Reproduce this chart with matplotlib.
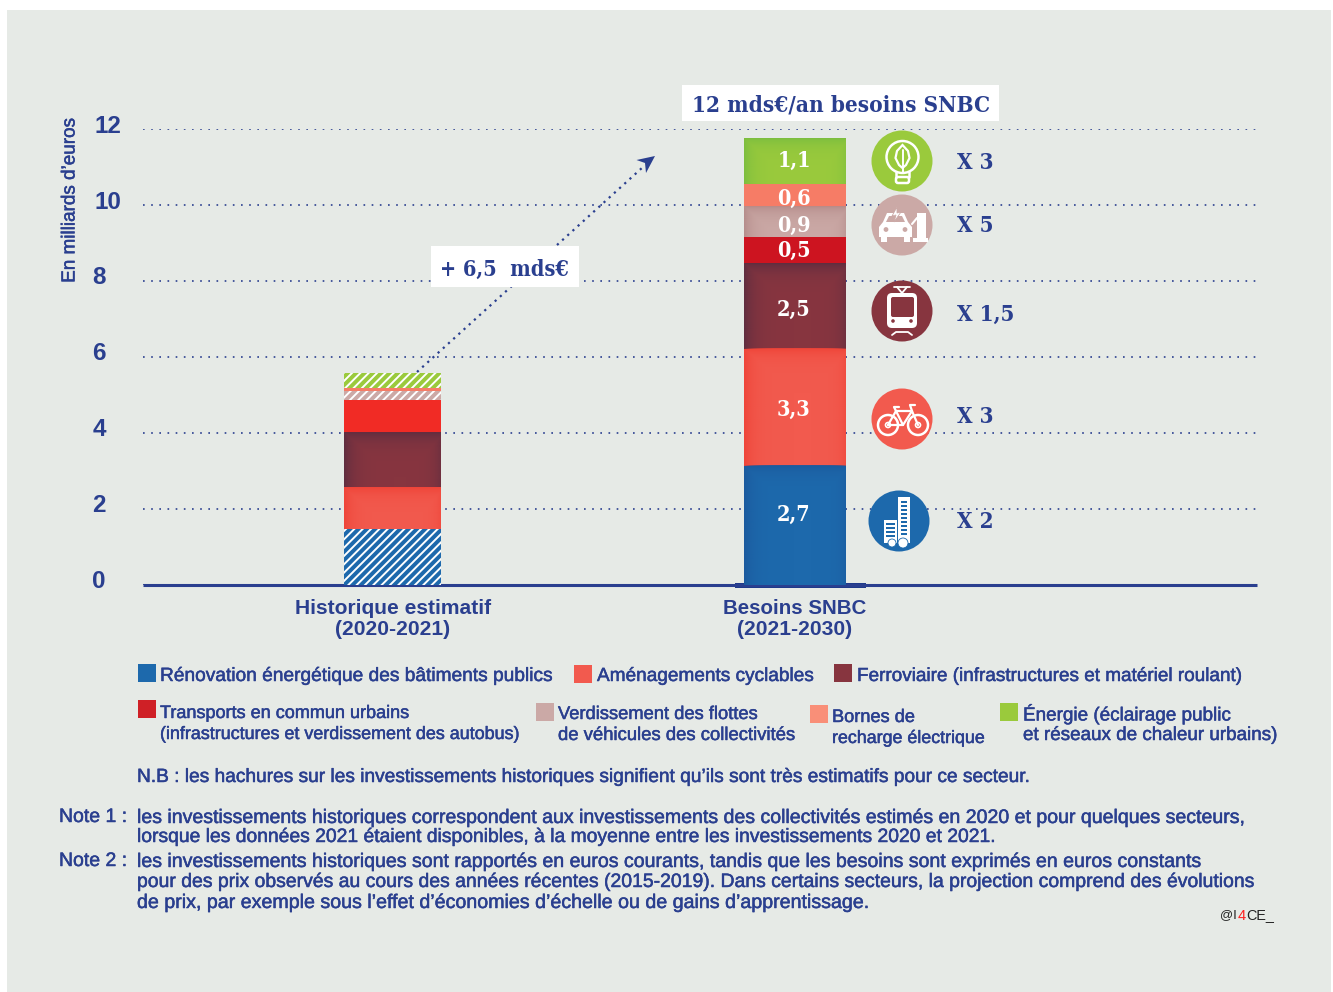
import matplotlib
matplotlib.use("Agg")
import matplotlib.pyplot as plt
import numpy as np
from matplotlib.colors import to_rgb
from matplotlib.patches import Circle, Rectangle, FancyBboxPatch, Polygon
from matplotlib.transforms import ScaledTranslation
import matplotlib.patheffects as pe

W, H = 1333, 992
SANS = "Liberation Sans"
SERIF = "DejaVu Serif"
NAVY = "#2A3F8F"
PANEL = "#E6EAE6"

periods = ["Historique estimatif\n(2020-2021)", "Besoins SNBC\n(2021-2030)"]
sectors = ["Rénovation", "Cyclable", "Ferroviaire", "Transports", "Verdissement", "Bornes", "Énergie"]
colors = ["#1D69AC", "#F25A4E", "#87353F", "#F12B25", "#CBA9A6", "#F67C66", "#9ACA3C"]
colors_right = ["#1D69AC", "#F25A4E", "#87353F", "#CD1420", "#CBA9A6", "#F67C66", "#9ACA3C"]
edge_tints = ["#1B5A9E", "#EF4438", "#5E2D40", None, "#B58D8B", None, "#7CBE3F"]
hist_heights = [1.47, 1.10, 1.42, 0.87, 0.24, 0.08, 0.39]
hist_hatched = [True, False, False, False, True, False, True]
need_heights = [3.13, 3.08, 2.26, 0.68, 0.79, 0.61, 1.19]
need_labels = ["2,7", "3,3", "2,5", "0,5", "0,9", "0,6", "1,1"]
yticks = [0, 2, 4, 6, 8, 10, 12]

plt.rcParams["hatch.linewidth"] = 1.4
plt.rcParams["hatch.color"] = "white"
fig = plt.figure(figsize=(W / 100, H / 100), dpi=100, facecolor="white")

# pixel overlay for panel, annotations and pictograms
bg = fig.add_axes([0, 0, 1, 1], zorder=0)
bg.set_xlim(0, W); bg.set_ylim(H, 0); bg.axis("off")
bg.add_patch(Rectangle((7, 10), 1324, 982, fc=PANEL, ec="none"))
bg.add_patch(Rectangle((735, 582.7), 131, 5.3, fc="#1F3A8A", ec="none"))

# chart axes: x pixels 143..1257, y pixels 585 (0) .. 128.5 (12)
ax = fig.add_axes([143 / W, 1 - 585 / H, (1257 - 143) / W, (585 - 128.5) / H], zorder=1)
ax.patch.set_alpha(0)
ax.set_xlim(143, 1257)
ax.set_ylim(0, 12)
for s in ["top", "right", "left"]:
    ax.spines[s].set_visible(False)
ax.spines["bottom"].set_color(NAVY)
ax.spines["bottom"].set_linewidth(2.2)
ax.spines["bottom"].set_capstyle("butt")
ax.set_axisbelow(True)
ax.yaxis.grid(True, color=NAVY, linestyle=(0, (1, 3.9)), linewidth=1.2)
ax.xaxis.set_visible(False)
ax.set_yticks(yticks)
ax.tick_params(axis="y", length=0, pad=34.6, labelsize=17.5, labelcolor=NAVY)
fig.canvas.draw()
for tl in ax.get_yticklabels():
    single = len(tl.get_text()) == 1
    shift = ScaledTranslation((-2.5 if single else 0) / 100, (5.5 if single else 4.5) / 100, fig.dpi_scale_trans)
    tl.set_fontfamily(SANS); tl.set_fontweight("bold"); tl.set_ha("left")
    tl.set_transform(tl.get_transform() + shift)

bars = []
bottom = 0
for i, (h, c, hatched) in enumerate(zip(hist_heights, colors, hist_hatched)):
    b = ax.bar(392.5, h, 97, bottom=bottom, color=c, edgecolor="white" if hatched else c,
               linewidth=0, hatch="////" if hatched else None, zorder=3)[0]
    if not hatched:
        bars.append((b, edge_tints[i]))
    bottom += h
bottom = 0
for i, (h, c) in enumerate(zip(need_heights, colors_right)):
    b = ax.bar(795, h, 102, bottom=bottom, color=c, linewidth=0, zorder=3)[0]
    bars.append((b, edge_tints[i]))
    bottom += h

# top layer for annotations
fg = fig.add_axes([0, 0, 1, 1], zorder=2)
fg.set_xlim(0, W); fg.set_ylim(H, 0); fg.axis("off")

# soft edge shading on the solid segments
to_px = ax.transData + fg.transData.inverted()
for b, tint in bars:
    if tint is None:
        continue
    (x0, y1), (x1, y0) = to_px.transform([(b.get_x(), b.get_y()), (b.get_x() + b.get_width(), b.get_y() + b.get_height())])
    w, h = int(x1 - x0), int(y1 - y0)
    xx, yy = np.meshgrid(np.arange(w) + .5, np.arange(h) + .5)
    a = np.maximum.reduce([np.exp(-xx / 9), 0.6 * np.exp(-(w - xx) / 7), np.exp(-yy / 8)])
    img = np.zeros((h, w, 4))
    img[..., :3] = to_rgb(tint)
    img[..., 3] = a
    fg.imshow(img, extent=(x0, x1, y1, y0), aspect="auto", interpolation="bilinear", zorder=0.5)
fg.set_xlim(0, W); fg.set_ylim(H, 0)

serif_kw = dict(color=NAVY, family=SERIF, fontweight="bold", stretch="condensed")
label_px = [515, 410, 310, 251, 226, 199, 161]
for lab, y in zip(need_labels, label_px):
    fg.text(794, y, lab, color="white", ha="center", va="center", family=SERIF,
            stretch="condensed", fontsize=15.5, fontweight="bold", zorder=5)

fg.plot([417, 643], [372, 167], color=NAVY, lw=1.6, ls=(0, (1, 2.15)), zorder=1.5)
fg.add_patch(Polygon([[655, 156], [636.5, 160], [645, 163], [646, 173]], fc=NAVY, ec="none", zorder=1.6))
fg.add_patch(Rectangle((431, 246), 148, 41, fc="white", ec="none", zorder=2))
fg.text(504.5, 269.5, "+ 6,5  mds€", fontsize=15.6, ha="center", va="center", zorder=3, **serif_kw)
fg.add_patch(Rectangle((682, 85), 317, 36, fc="white", ec="none", zorder=2))
fg.text(841, 105, "12 mds€/an besoins SNBC", fontsize=16.2, ha="center", va="center", zorder=3, **serif_kw)

def t(x, y, s, size=14.2, weight="normal", ha="left", color=NAVY, **kw):
    return fg.text(x, y + 1.5, s, color=color, family=SANS, fontsize=size, fontweight=weight, ha=ha, va="center",
                   path_effects=[pe.withStroke(linewidth=0.35, foreground=color)] if weight == "normal" else None, **kw)

fg.text(70, 201, "En milliards d’euros", rotation=90, color=NAVY, family=SANS, fontsize=13.6, ha="center", va="center",
        path_effects=[pe.withStroke(linewidth=0.35, foreground=NAVY)])
t(393, 607, "Historique estimatif", 15.1, "bold", "center")
t(393, 628, "(2020-2021)", 15.1, "bold", "center")
t(795, 607, "Besoins SNBC", 14.8, "bold", "center")
t(795, 628, "(2021-2030)", 15.1, "bold", "center")

# legend
for x, y, c in [(138, 664, "#1D69AC"), (574, 665, "#F25A4E"), (834, 664, "#87353F"), (138, 700, "#CF2026"),
                (536, 703, "#CBA9A6"), (810, 705, "#F98F78"), (1000, 703, "#9ACA3C")]:
    fg.add_patch(Rectangle((x, y), 18, 18, fc=c, ec="none"))
t(160, 675, "Rénovation énergétique des bâtiments publics", 13.78)
t(597, 675, "Aménagements cyclables", 13.7)
t(857, 675, "Ferroviaire (infrastructures et matériel roulant)", 13.63)
t(160, 712, "Transports en commun urbains", 13.0)
t(160, 733, "(infrastructures et verdissement des autobus)", 12.9)
t(558, 713, "Verdissement des flottes", 13.2)
t(558, 734, "de véhicules des collectivités", 13.3)
t(832, 716, "Bornes de", 13.1)
t(832, 737, "recharge électrique", 12.85)
t(1023, 713, "Énergie (éclairage public", 13.6)
t(1023, 734, "et réseaux de chaleur urbains)", 13.56)
t(137, 776, "N.B : les hachures sur les investissements historiques signifient qu’ils sont très estimatifs pour ce secteur.", 13.77)
t(59, 816, "Note 1 :", 14.0)
t(137, 816, "les investissements historiques correspondent aux investissements des collectivités estimés en 2020 et pour quelques secteurs,", 14.07)
t(137, 836, "lorsque les données 2021 étaient disponibles, à la moyenne entre les investissements 2020 et 2021.", 13.9)
t(59, 860, "Note 2 :", 14.0)
t(137, 860, "les investissements historiques sont rapportés en euros courants, tandis que les besoins sont exprimés en euros constants", 14.08)
t(137, 881, "pour des prix observés au cours des années récentes (2015-2019). Dans certains secteurs, la projection comprend des évolutions", 13.97)
t(137, 901, "de prix, par exemple sous l’effet d’économies d’échelle ou de gains d’apprentissage.", 14.14)
fg.text(1220, 915.5, "@I", color="#222222", family=SANS, fontsize=9.4, va="center")
fg.text(1237.5, 915.5, "4", color="#FF2020", family=SANS, fontsize=10.6, va="center")
fg.text(1246, 915.5, "CE_", color="#222222", family=SANS, fontsize=10.4, va="center")

# multipliers
for (y, s) in [(522, "X 2"), (417, "X 3"), (315, "X 1,5"), (226, "X 5"), (163, "X 3")]:
    fg.text(957, y, s, fontsize=16, va="center", **serif_kw)

# pictograms
W_ = "white"
def ring(x, y, r, lw=1.6, fc="none"):
    fg.add_patch(Circle((x, y), r, fc=fc, ec=W_, lw=lw, zorder=6))
def box(x, y, w, h, fc=W_, ec="none", lw=1.2, rounding=None):
    if rounding:
        fg.add_patch(FancyBboxPatch((x, y), w, h, boxstyle=f"round,pad=0,rounding_size={rounding}", fc=fc, ec=ec, lw=lw, zorder=6))
    else:
        fg.add_patch(Rectangle((x, y), w, h, fc=fc, ec=ec, lw=lw, zorder=6))
def line(xs, ys, lw=1.6):
    fg.plot(xs, ys, color=W_, lw=lw, zorder=6, solid_capstyle="round")

# energy: light bulb with leaf
fg.add_patch(Circle((902, 161), 30.5, fc="#9ACA3C", ec="none", zorder=5))
ring(902.5, 157, 16, 1.8)
line([896, 896], [172, 177], 1.8); line([909, 909], [172, 177], 1.8)
box(896, 177, 13, 6, fc="none", ec=W_, lw=1.8, rounding=2)
fg.add_patch(Polygon([[902.5, 145], [908, 151], [909.5, 158], [906, 165], [902.5, 168], [899, 165], [895.5, 158], [897, 151]],
                     fc="none", ec=W_, lw=1.6, zorder=6))
line([902.5, 902.5], [150, 172], 1.4)

# charging car
pink = "#CBA9A6"
fg.add_patch(Circle((902, 225), 30.5, fc=pink, ec="none", zorder=5))
fg.add_patch(Polygon([[883, 222], [887, 213], [904, 213], [908, 222], [912, 227], [912, 237], [879, 237], [879, 227]], fc=W_, ec="none", zorder=6))
box(881, 237, 6, 5); box(904, 237, 6, 5)
fg.add_patch(Polygon([[886, 222], [889, 216], [902, 216], [905, 222]], fc=pink, ec="none", zorder=7))
fg.add_patch(Circle((886, 229.5), 2.4, fc=pink, ec="none", zorder=7))
fg.add_patch(Circle((905, 229.5), 2.4, fc=pink, ec="none", zorder=7))
box(917, 213, 9, 27); box(913, 238, 15, 4)
line([912, 917], [224, 218], 1.5)
fg.add_patch(Polygon([[897, 207], [892, 216], [896, 215], [894, 222], [901, 212], [897, 213]], fc=W_, ec=pink, lw=0.6, zorder=8))

# tram
wine = "#87353F"
fg.add_patch(Circle((902, 311), 30.5, fc=wine, ec="none", zorder=5))
box(887, 293, 30, 35, rounding=5)
box(891, 297, 23, 20, fc=wine, rounding=2)
fg.add_patch(Circle((893, 321), 1.8, fc=wine, ec="none", zorder=7))
fg.add_patch(Circle((911, 321), 1.8, fc=wine, ec="none", zorder=7))
line([894, 910], [287, 287], 1.3); line([897, 902, 907], [287, 293, 287], 1.3)
line([892, 896, 908, 912], [335, 332, 332, 335], 1.3)

# bicycle
fg.add_patch(Circle((902, 419), 30.5, fc="#F25A4E", ec="none", zorder=5))
ring(888, 425, 10, 1.8); ring(918, 425, 10, 1.8)
ring(888, 425, 2.5, 1.2); ring(918, 425, 2.5, 1.2)
line([888, 896, 903, 912, 918], [425, 411, 425, 411, 425], 1.6)
line([896, 912], [411, 411], 1.6); line([888, 903], [425, 425], 1.6)
line([896, 894, 899], [411, 407, 407], 1.6); line([912, 910, 915], [411, 405, 405], 1.6)

# buildings
blue = "#1D69AC"
fg.add_patch(Circle((899, 521), 30.5, fc=blue, ec="none", zorder=5))
box(898, 497, 12, 46); box(884, 520, 13, 23)
for yy in range(501, 534, 4):
    box(901, yy, 6, 2.2, fc=blue)
for yy in range(523, 538, 4):
    box(886, yy, 9, 2.2, fc=blue)
for cx, rr in [(892, 4), (903, 5)]:
    fg.add_patch(Circle((cx, 543), rr, fc=W_, ec=blue, lw=0.6, zorder=6))

fig.savefig("out.png", dpi=100)
